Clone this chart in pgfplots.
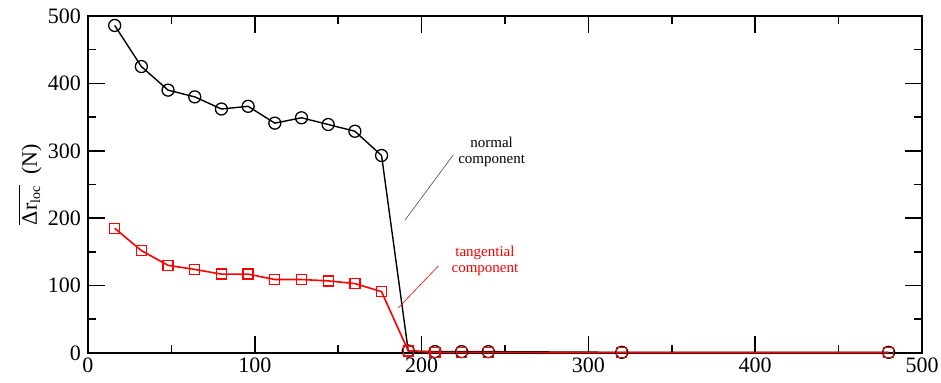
\documentclass[border=0pt]{standalone}
\usepackage{fontspec}
\setmainfont{Liberation Serif}
\usepackage{pgfplots}
\pgfplotsset{compat=1.18}
\begin{document}
\begin{tikzpicture}
\begin{axis}[
  scale only axis,
  width=417pt, height=168.5pt,
  xmin=0, xmax=500, ymin=0, ymax=500,
  xtick={0,100,...,500}, ytick={0,100,...,500},
  minor xtick={50,150,...,450}, minor ytick={50,150,...,450},
  tick align=inside,
  major tick length=8.5pt, minor tick length=4pt,
  every tick/.style={black, line width=0.8pt},
  axis line style={line width=1pt},
  tick label style={font=\fontsize{11}{13}\selectfont},
  xticklabel style={yshift=1pt},
  /pgf/number format/assume math mode=true,
  ylabel={$\overline{\mbox{Δr}_{\mbox{\fontsize{7}{8}\selectfont loc}}}$\ \ (N)},
  ylabel style={font=\fontsize{11}{13}\selectfont, at={(axis description cs:0,0.5)}, anchor=center, yshift=29pt},
  clip=false,
]
\addplot[black, line width=0.7pt, mark=o, mark size=3pt, mark options={line width=0.65pt}] coordinates {
(16,486) (32,425) (48,390) (64,380) (80,362) (96,366) (112,341) (128,349)
(144,339) (160,329) (176,293) (192,3) (208,2) (224,2) (240,2) (320,1) (480,1)};
\addplot[red, line width=0.8pt, mark=square, mark size=2.5pt, mark options={line width=0.65pt}] coordinates {
(16,185) (32,152) (48,130) (64,124) (80,117) (96,117) (112,109) (128,109)
(144,107) (160,103) (176,91) (192,3) (208,1) (224,1) (240,1) (320,0.5) (480,0.5)};
\draw[black!70, line width=0.3pt] (axis cs:219,294) -- (axis cs:190,197);
\draw[red, line width=0.3pt] (axis cs:210,129) -- (axis cs:186,67);
\node[align=center, font=\fontsize{7.5}{8}\selectfont, black] at (axis cs:242,298) {normal\\component};
\node[align=center, font=\fontsize{7.5}{8}\selectfont, red] at (axis cs:238,137) {tangential\\component};
\end{axis}
\pgfresetboundingbox
\path (current axis.south west) ++(-44pt,-15pt) coordinate (bl);
\path (current axis.north east) ++(9.5pt,8pt) coordinate (tr);
\path[use as bounding box] (bl) rectangle (tr);
\end{tikzpicture}
\end{document}
